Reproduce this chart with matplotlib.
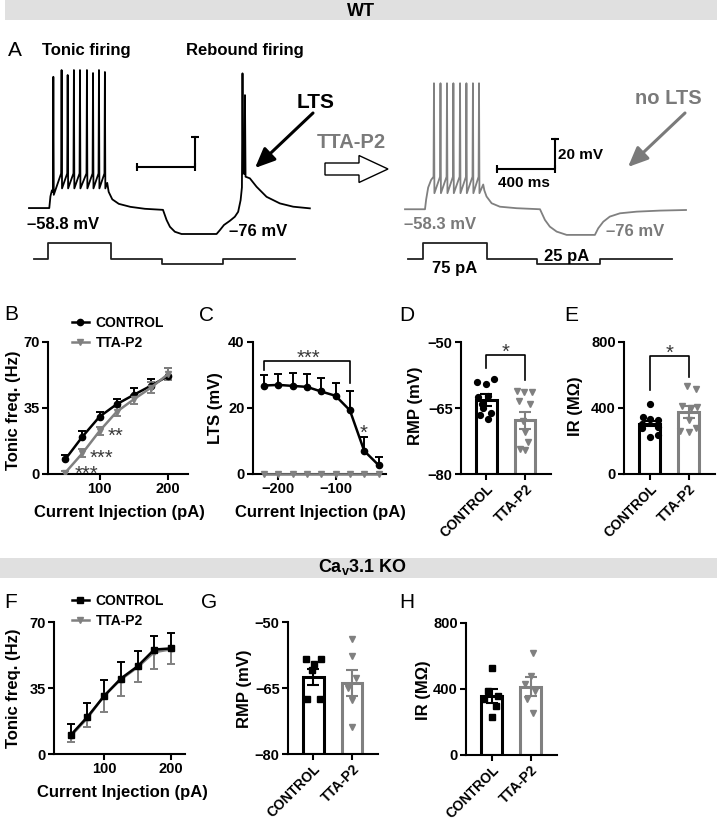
import numpy as np
import matplotlib.pyplot as plt
import matplotlib.patches as mpatches

plt.rcParams['font.family'] = ['Liberation Sans', 'DejaVu Sans']
plt.rcParams['font.weight'] = 'bold'
plt.rcParams['axes.labelweight'] = 'bold'
plt.rcParams['mathtext.fontset'] = 'custom'
plt.rcParams['mathtext.rm'] = 'Liberation Sans:bold'
plt.rcParams['axes.linewidth'] = 1.5

W, H = 717, 823
BLACK = 'black'
GRAY = '#808080'

# ---------------- A: example traces (ms, mV) ----------------
ctrl_t = [0, 140, 148, 158, 165, 168, 171, 222, 225, 228, 264, 267, 270, 307, 310, 313,
          349, 352, 355, 397, 400, 403, 439, 442, 445, 480, 483, 486, 521, 524, 527,
          540, 550, 575, 620, 700, 800, 925, 950, 973, 1007, 1053, 1295, 1318, 1346, 1387,
          1421, 1444, 1461, 1470, 1474, 1478, 1488, 1491, 1495, 1525, 1571, 1640, 1732, 1824, 1939]
ctrl_v = [-58.8, -58.8, -51, -47, -48, 28.7, -50, -35.7, 33.2, -45.7, -35.7, 29.9, -45.7,
          -35.7, 33.2, -45.7, -35.7, 33.2, -45.7, -35.7, 33.2, -45.7, -35.7, 31.2, -45.7,
          -35.7, 33.2, -45.7, -35.7, 31.9, -45.7, -42, -48, -53, -56, -58, -59.3, -60,
          -66.8, -71.3, -74.6, -76.1, -76.1, -73.5, -70.1, -67.3, -64.6, -61.3, -53.5, -45,
          31, -35.7, -36, 16.5, -37.9, -39, -44.6, -51.3, -55.7, -57.9, -59]
tta_t = [0, 138, 146, 160, 180, 197, 200, 203, 242, 245, 248, 287, 290, 293, 331, 334, 337,
         377, 380, 383, 421, 424, 427, 466, 469, 472, 508, 511, 514, 540, 548, 563, 598,
         655, 770, 932, 966, 1000, 1047, 1116, 1311, 1334, 1369, 1414, 1484, 1599, 1760, 1940]
tta_v = [-58.5, -58.5, -52, -44, -39, -36.8, 25.5, -47.8, -36.8, 25.5, -47.8, -36.8, 25.5,
         -47.8, -36.8, 25.5, -47.8, -36.8, 25.5, -47.8, -36.8, 25.5, -47.8, -36.8, 25.5,
         -47.8, -36.8, 25.5, -47.8, -42, -46, -50, -54.5, -56.8, -57.8, -58.5, -65.6, -70.1,
         -73.4, -75.6, -75.6, -71.2, -66.8, -63.4, -61.2, -60.1, -59.4, -59.0]
# injected current protocol (pA)
step_t_ctrl = [35, 131, 131, 566, 566, 918, 918, 1339, 1339, 1835]
step_t_tta = [21, 124, 124, 566, 566, 911, 911, 1345, 1345, 1842]
step_i = [0, 0, 75, 75, 0, 0, -25, -25, 0, 0]
scale_ms, scale_mv = 400, 20

# ---------------- B: WT tonic firing ----------------
b_current = [50, 75, 100, 125, 150, 175, 200]
b_ctrl = [7.8, 19.8, 30.4, 37.0, 42.0, 46.8, 52.0]
b_ctrl_sem = [2.3, 3.0, 2.6, 2.8, 3.5, 3.5, 4.0]
b_tta = [0.7, 11.0, 22.8, 33.0, 39.6, 45.8, 53.0]
b_tta_sem = [1.0, 2.1, 2.1, 2.3, 2.3, 3.0, 3.0]

# ---------------- C: LTS amplitude ----------------
c_current = [-225, -200, -175, -150, -125, -100, -75, -50, -25]
c_ctrl = [26.8, 27.0, 26.7, 26.4, 25.0, 23.7, 19.3, 7.0, 2.7]
c_ctrl_sem = [3.3, 3.3, 4.0, 4.0, 4.0, 4.0, 5.7, 4.3, 2.5]
c_tta = [0.0, 0.0, 0.0, 0.0, 0.0, 0.0, 0.0, 0.0, 0.0]

groups = ['CONTROL', 'TTA-P2']

# ---------------- D / E: WT RMP and IR ----------------
d_mean = [-63.2, -67.8]
d_sem = [1.3, 2.0]
d_ctrl = [-58.5, -59.1, -59.6, -62.2, -62.4, -64.0, -65.1, -66.2, -66.6, -67.5]
d_tta = [-61.2, -61.3, -61.4, -63.5, -64.0, -68.0, -70.5, -72.8, -74.3, -74.5]
e_mean = [305, 375]
e_sem = [17, 37]
e_ctrl = [425, 345, 335, 330, 300, 285, 280, 235, 225]
e_tta = [535, 516, 410, 405, 400, 330, 280, 262, 255]

# ---------------- F: Cav3.1 KO tonic firing ----------------
f_current = [50, 75, 100, 125, 150, 175, 200]
f_ctrl = [10.0, 19.7, 30.7, 40.0, 46.5, 55.4, 56.0]
f_ctrl_sem = [5.7, 7.6, 8.5, 8.8, 8.0, 7.0, 8.0]
f_tta = [9.5, 19.0, 31.0, 39.5, 46.0, 54.0, 55.5]
f_tta_sem = [3.0, 4.6, 8.6, 9.0, 7.7, 8.7, 8.0]

# ---------------- G / H: KO RMP and IR ----------------
g_mean = [-62.5, -63.8]
g_sem = [1.8, 3.0]
g_ctrl = [-58.5, -58.5, -59.5, -61.0, -67.5, -67.5]
g_tta = [-53.9, -57.8, -62.7, -65.0, -67.7, -73.8]
h_mean = [357, 414]
h_sem = [41, 57]
h_ctrl = [525, 390, 355, 340, 300, 232]
h_tta = [620, 480, 430, 390, 340, 255]

# point scatter offsets inside bars (category units)
d_jit = [[0.2, -0.24, 0.0, 0.03, -0.21, -0.12, -0.08, 0.11, -0.17, 0.05],
         [-0.22, 0.17, -0.02, -0.15, 0.12, -0.04, 0.0, 0.09, -0.13, 0.0]]
e_jit = [[0.0, -0.18, 0.0, 0.2, -0.2, 0.21, -0.2, 0.2, 0.0],
         [-0.05, 0.2, -0.18, 0.22, 0.05, 0.0, 0.2, -0.22, 0.0]]
g_jit = [[-0.2, 0.2, 0.02, -0.05, -0.17, 0.17],
         [0.0, 0.0, 0.1, -0.1, 0.0, 0.0]]
h_jit = [[0.0, -0.1, 0.15, -0.2, 0.1, 0.0],
         [0.05, 0.0, -0.15, 0.1, -0.1, 0.05]]

fig = plt.figure(figsize=(W / 100, H / 100), dpi=100)


def box(x0, y0, x1, y1):
    return [x0 / W, 1 - y1 / H, (x1 - x0) / W, (y1 - y0) / H]


page = fig.add_axes([0, 0, 1, 1])
page.set_xlim(0, W)
page.set_ylim(H, 0)
page.axis('off')
page.set_zorder(10)

# section headers
page.add_patch(mpatches.Rectangle((5, 0), 712, 20, color='#e0e0e0', lw=0))
page.add_patch(mpatches.Rectangle((0, 558), 717, 20, color='#e0e0e0', lw=0))
page.text(361, 11, 'WT', ha='center', va='center', fontsize=13)
page.text(362, 567, r'Ca$_{\mathrm{v}}$3.1 KO', ha='center', va='center', fontsize=13)

# panel letters
for lab, x, y in [('A', 8, 50), ('B', 4, 314), ('C', 199, 315), ('D', 399, 315),
                  ('E', 564, 315), ('F', 4, 602), ('G', 201, 602), ('H', 399, 603)]:
    page.text(x, y, lab, ha='left', va='center', fontsize=15, fontweight='normal')

# ---------------- A ----------------
axVl = fig.add_axes(box(29, 60, 310, 240))
axVl.set_xlim(0, 1940)
axVl.set_ylim(-80.1, 39.9)
axVl.axis('off')
axVl.plot(ctrl_t, ctrl_v, color=BLACK, lw=1.3, clip_on=False)
sx, sy = 745, -31.5
axVl.plot([sx, sx + scale_ms, sx + scale_ms], [sy, sy, sy + scale_mv], color=BLACK, lw=1.5)
axVl.plot([sx, sx + scale_ms], [sy, sy], ls='none', marker='|', ms=6, mew=1.5, color=BLACK)
axVl.plot([sx + scale_ms], [sy + scale_mv], ls='none', marker='_', ms=6, mew=1.5, color=BLACK)

axVr = fig.add_axes(box(405, 60, 686, 240))
axVr.set_xlim(0, 1940)
axVr.set_ylim(-79, 41)
axVr.axis('off')
axVr.plot(tta_t, tta_v, color=GRAY, lw=1.3, clip_on=False)
sx, sy = 635, -31.6
axVr.plot([sx, sx + scale_ms, sx + scale_ms], [sy, sy, sy + scale_mv], color=BLACK, lw=1.5)
axVr.plot([sx, sx + scale_ms], [sy, sy], ls='none', marker='|', ms=6, mew=1.5, color=BLACK)
axVr.plot([sx + scale_ms], [sy + scale_mv], ls='none', marker='_', ms=6, mew=1.5, color=BLACK)

for x0, tt in [(29, step_t_ctrl), (405, step_t_tta)]:
    axI = fig.add_axes(box(x0, 236, x0 + 281, 274))
    axI.set_xlim(0, 1940)
    axI.set_ylim(-70, 108)
    axI.axis('off')
    axI.plot(tt, step_i, color='#222222', lw=1.3, clip_on=False)

page.text(42, 50, 'Tonic firing', ha='left', va='center', fontsize=12)
page.text(186, 50, 'Rebound firing', ha='left', va='center', fontsize=12)
page.text(297, 102, 'LTS', ha='left', va='center', fontsize=15)
page.text(317, 142, 'TTA-P2', ha='left', va='center', fontsize=14.5, color='#7a7a7a')
page.text(635, 98, 'no LTS', ha='left', va='center', fontsize=14.5, color='#7a7a7a')
page.text(27, 224, '\u201358.8 mV', ha='left', va='center', fontsize=12)
page.text(229, 231, '\u201376 mV', ha='left', va='center', fontsize=12)
page.text(404, 224, '\u201358.3 mV', ha='left', va='center', fontsize=12, color='#7a7a7a')
page.text(606, 231, '\u201376 mV', ha='left', va='center', fontsize=12, color='#7a7a7a')
page.text(558, 155, '20 mV', ha='left', va='center', fontsize=11)
page.text(498, 183, '400 ms', ha='left', va='center', fontsize=11)
page.text(432, 268, '75 pA', ha='left', va='center', fontsize=12)
page.text(544, 256, '25 pA', ha='left', va='center', fontsize=12)

page.add_patch(mpatches.FancyArrow(325, 169, 63, 0, width=12, head_width=27, head_length=29,
                                   length_includes_head=True, facecolor='white',
                                   edgecolor=BLACK, linewidth=1.0))
page.annotate('', xy=(255, 168), xytext=(313, 113),
              arrowprops=dict(arrowstyle='-|>,head_length=0.8,head_width=0.35', color=BLACK,
                              lw=2.2, shrinkA=0, shrinkB=0, mutation_scale=15))
page.annotate('', xy=(628, 167), xytext=(685, 113),
              arrowprops=dict(arrowstyle='-|>,head_length=0.8,head_width=0.35', color='#7a7a7a',
                              lw=2.2, shrinkA=0, shrinkB=0, mutation_scale=15))


# ---------------- helpers ----------------
def clean(ax):
    ax.spines['top'].set_visible(False)
    ax.spines['right'].set_visible(False)
    ax.tick_params(width=1.5, length=4, labelsize=10.5, pad=2)
    for t in ax.get_xticklabels() + ax.get_yticklabels():
        t.set_fontweight('bold')


def one_side_err(ax, x, y, err, color, below=False):
    zeros = np.zeros(len(y))
    yerr = [np.asarray(err), zeros] if below else [zeros, np.asarray(err)]
    _, caps, _ = ax.errorbar(x, y, yerr=yerr, fmt='none', ecolor=color, elinewidth=1.4,
                             capsize=3, capthick=1.4, zorder=2)
    for c in caps:
        if np.allclose(c.get_ydata(), y):
            c.set_visible(False)


def set_labels(ax, xlabel, ylabel, xl=None, yl=None):
    if xlabel:
        ax.set_xlabel(xlabel, fontsize=12, fontweight='bold')
        ax.xaxis.set_label_coords(xl[0], xl[1], transform=page.transData)
    ax.set_ylabel(ylabel, fontsize=12, fontweight='bold')
    ax.yaxis.set_label_coords(yl[0], yl[1], transform=page.transData)


def star(x, y, s):
    page.text(x, y + 11, s, ha='center', va='baseline', fontsize=14.5,
              fontweight='normal', color='#3a3a3a')


def bar_panel(ax, means, sems, pts, jit, mk, base, top, yticks):
    cols = [BLACK, GRAY]
    for i in range(2):
        ax.bar(i, means[i] - base, bottom=base, width=0.53, facecolor='white',
               edgecolor=cols[i], linewidth=2.2, zorder=2)
        ax.plot(i + np.asarray(jit[i]), pts[i], ls='none', marker=mk[i], color=cols[i],
                ms=4.2, zorder=3, clip_on=False)
        ax.errorbar(i, means[i], yerr=sems[i], color=cols[i], capsize=4, elinewidth=1.5,
                    capthick=1.5, zorder=4)
    ax.set_xlim(-0.66, 1.675)
    ax.set_ylim(base, top)
    ax.set_yticks(yticks)
    ax.set_xticks([0, 1])
    ax.set_xticklabels(groups, rotation=45, ha='right', rotation_mode='anchor', fontsize=10)
    clean(ax)
    for t in ax.get_xticklabels():
        t.set_fontsize(10)


def legend(ax, handles, x, y):
    ax.legend(handles, groups, loc='upper left', bbox_to_anchor=(x / W, 1 - y / H),
              bbox_transform=fig.transFigure, frameon=False, fontsize=10, handlelength=1.2,
              handletextpad=0.5, labelspacing=0.45, borderpad=0, borderaxespad=0)


# ---------------- B ----------------
axB = fig.add_axes(box(48, 342, 188, 474))
lb1, = axB.plot(b_current, b_ctrl, '-o', color=BLACK, lw=1.8, ms=4.5, zorder=3)
lb2, = axB.plot(b_current, b_tta, '-v', color=GRAY, lw=1.8, ms=4.5, zorder=3)
one_side_err(axB, b_current, b_ctrl, b_ctrl_sem, BLACK)
axB.errorbar(b_current, b_tta, yerr=b_tta_sem, fmt='none', ecolor=GRAY, elinewidth=1.4,
             capsize=3, capthick=1.4, zorder=2)
axB.set_xlim(24.8, 229)
axB.set_ylim(0, 70)
axB.set_yticks([0, 35, 70])
axB.set_xticks([100, 200])
clean(axB)
set_labels(axB, 'Current Injection (pA)', 'Tonic freq. (Hz)', (119, 505), (21, 410))
legend(axB, [lb1, lb2], 72, 316)
star(115, 431, '**')
star(101.5, 453, '***')
star(86, 469, '***')

# ---------------- C ----------------
axC = fig.add_axes(box(253, 342, 386, 474))
axC.plot(c_current, c_tta, '-v', color=GRAY, lw=1.8, ms=4.5, zorder=3, clip_on=False)
axC.plot(c_current, c_ctrl, '-o', color=BLACK, lw=1.8, ms=4.5, zorder=4)
one_side_err(axC, c_current, c_ctrl, c_ctrl_sem, BLACK)
axC.plot([-225, -225, -75, -75], [31.5, 34.2, 34.2, 27.6], color=BLACK, lw=1.2, clip_on=False)
axC.set_xlim(-244, -12)
axC.set_ylim(0, 40)
axC.set_yticks([0, 20, 40])
axC.set_xticks([-200, -100])
clean(axC)
set_labels(axC, 'Current Injection (pA)', 'LTS (mV)', (320, 505), (223, 408))
star(308, 353, '***')
star(364, 428, '*')

# ---------------- D ----------------
axD = fig.add_axes(box(461, 342, 551, 474))
bar_panel(axD, d_mean, d_sem, [d_ctrl, d_tta], d_jit, ['o', 'v'], -80, -50, [-80, -65, -50])
axD.plot([0, 0, 1, 1], [-55.8, -52.95, -52.95, -58.6], color=BLACK, lw=1.2, clip_on=False)
set_labels(axD, None, 'RMP (mV)', None, (423, 406))
star(506, 347, '*')

# ---------------- E ----------------
axE = fig.add_axes(box(624, 342, 715, 474))
bar_panel(axE, e_mean, e_sem, [e_ctrl, e_tta], e_jit, ['o', 'v'], 0, 800, [0, 400, 800])
axE.plot([0, 0, 1, 1], [510, 717, 717, 590], color=BLACK, lw=1.2, clip_on=False)
set_labels(axE, None, 'IR (M\u03a9)', None, (583, 406))
star(670, 348, '*')

# ---------------- F ----------------
axF = fig.add_axes(box(54, 622, 185, 754))
lf2, = axF.plot(f_current, f_tta, '-v', color=GRAY, lw=1.8, ms=4.5, zorder=3)
lf1, = axF.plot(f_current, f_ctrl, '-s', color=BLACK, lw=1.8, ms=4.5, zorder=4)
one_side_err(axF, f_current, f_ctrl, f_ctrl_sem, BLACK)
one_side_err(axF, f_current, f_tta, f_tta_sem, GRAY, below=True)
axF.set_xlim(25, 221)
axF.set_ylim(0, 70)
axF.set_yticks([0, 35, 70])
axF.set_xticks([100, 200])
clean(axF)
set_labels(axF, 'Current Injection (pA)', 'Tonic freq. (Hz)', (122, 785), (21, 688))
legend(axF, [lf1, lf2], 72, 594)

# ---------------- G ----------------
axG = fig.add_axes(box(288, 622, 378, 754))
bar_panel(axG, g_mean, g_sem, [g_ctrl, g_tta], g_jit, ['s', 'v'], -80, -50, [-80, -65, -50])
set_labels(axG, None, 'RMP (mV)', None, (252, 689))

# ---------------- H ----------------
axH = fig.add_axes(box(466, 623, 557, 755))
bar_panel(axH, h_mean, h_sem, [h_ctrl, h_tta], h_jit, ['s', 'v'], 0, 800, [0, 400, 800])
set_labels(axH, None, 'IR (M\u03a9)', None, (431, 690))

fig.savefig('out.png', dpi=100)
